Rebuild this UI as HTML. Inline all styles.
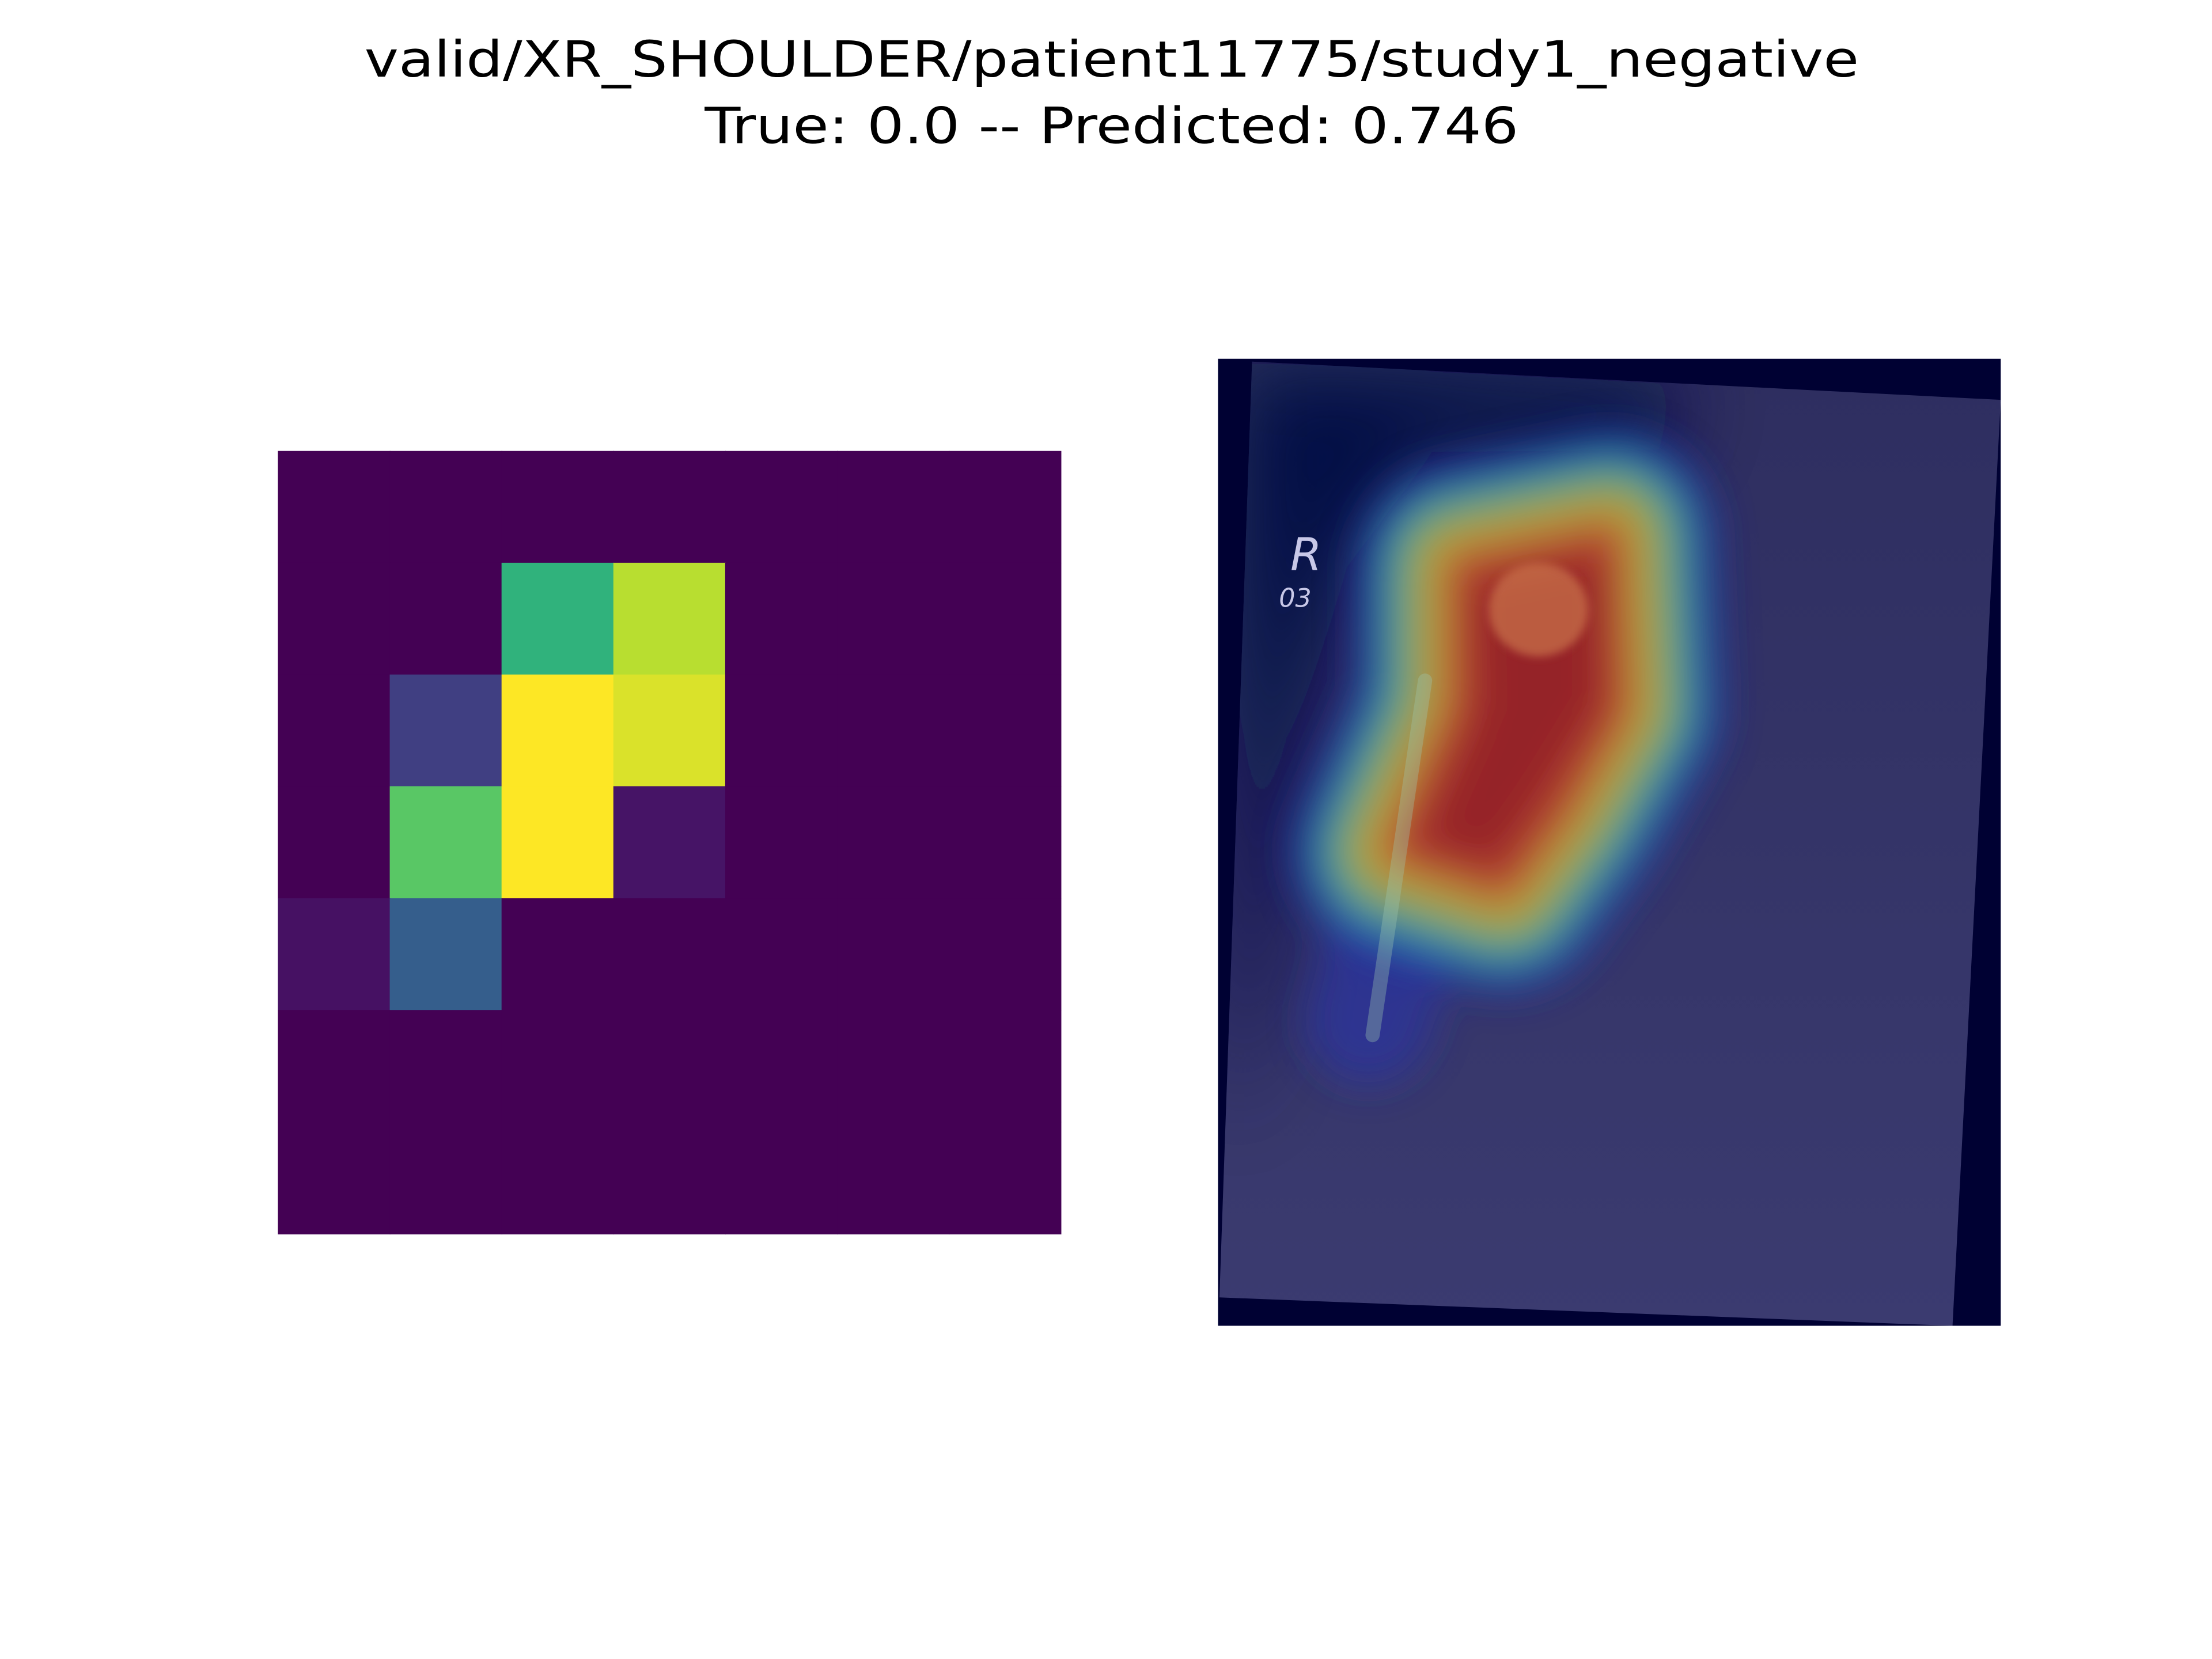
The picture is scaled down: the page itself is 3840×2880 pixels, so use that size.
<!DOCTYPE html>
<html><head><meta charset="utf-8"><style>
html,body{margin:0;padding:0;background:#fff;}
svg{display:block;}
</style></head><body>
<svg id="fig" width="3840" height="2880" viewBox="0 0 1560 1170" xmlns="http://www.w3.org/2000/svg">
<defs>
<filter id="blur" filterUnits="userSpaceOnUse" x="700" y="150" width="900" height="950"><feGaussianBlur stdDeviation="14"/></filter>
<filter id="blurbig" filterUnits="userSpaceOnUse" x="700" y="150" width="900" height="950"><feGaussianBlur stdDeviation="30"/></filter>
<filter id="blur2" filterUnits="userSpaceOnUse" x="700" y="150" width="900" height="950"><feGaussianBlur stdDeviation="3"/></filter>
<clipPath id="qclip"><polygon points="883,255 1411,282 1377,935 860,915"/></clipPath>
<linearGradient id="bg" x1="0" y1="0" x2="0" y2="1">
<stop offset="0" stop-color="#2e2e60"/><stop offset="1" stop-color="#3b3b70"/>
</linearGradient>
</defs>
<rect width="1560" height="1170" fill="#fff"/>
<text x="784" y="54" text-anchor="middle" font-family="DejaVu Sans, Liberation Sans, sans-serif" font-size="35" fill="#000" textLength="1054" lengthAdjust="spacingAndGlyphs">valid/XR_SHOULDER/patient11775/study1_negative</text>
<text x="784" y="101" text-anchor="middle" font-family="DejaVu Sans, Liberation Sans, sans-serif" font-size="35" fill="#000" textLength="574" lengthAdjust="spacingAndGlyphs">True: 0.0 -- Predicted: 0.746</text>
<g id="heatmap"></g>
<g>
<rect x="859" y="253" width="552" height="682" fill="#000133"/>
<polygon points="883,255 1411,282 1377,935 860,915" fill="url(#bg)"/>
<g clip-path="url(#qclip)">
<polygon points="870,255 1190,268 1170,320 1010,320 950,400 915,520 890,700 870,800" fill="#000844" filter="url(#blurbig)" opacity="0.95"/>
<g filter="url(#blur)" stroke-linejoin="round" stroke-linecap="round" opacity="0.9">
<polygon points="1030,400 1135,378 1140,500 1100,570 1060,625 985,600 1030,500" fill="#2430b0" stroke="#2430b0" stroke-width="150" opacity="0.8"/>
<polyline points="1010,560 965,720" stroke="#2430b0" stroke-width="90" opacity="0.6" fill="none"/>
<polygon points="1030,400 1135,378 1140,500 1100,570 1060,625 985,600 1030,500" fill="#2aa0b0" stroke="#2aa0b0" stroke-width="115"/>
<polygon points="1030,400 1135,378 1140,500 1100,570 1060,625 985,600 1030,500" fill="#80b848" stroke="#80b848" stroke-width="85"/>
<polygon points="1030,400 1135,378 1140,500 1100,570 1060,625 985,600 1030,500" fill="#d0a838" stroke="#d0a838" stroke-width="55"/>
<polygon points="1030,400 1135,378 1140,500 1100,570 1060,625 985,600 1030,500" fill="#c0402c" stroke="#c0402c" stroke-width="22"/>
<polygon points="1040,412 1130,392 1130,495 1090,560 1055,610 1000,595 1042,500" fill="#a02424"/>
</g>
<ellipse cx="1085" cy="430" rx="35" ry="33" fill="#c87048" opacity="0.75" filter="url(#blur2)"/>
<line x1="968" y1="730" x2="1005" y2="480" stroke="#9fc8b0" stroke-width="10" stroke-linecap="round" opacity="0.35"/>
<text x="910" y="402" font-family="DejaVu Sans, sans-serif" font-size="32" font-style="italic" fill="#c8c8e8">R</text>
<text x="902" y="428" font-family="DejaVu Sans, sans-serif" font-size="18" font-style="italic" fill="#c8c8e8">03</text>
</g>
</g>
</svg>
<script>
const rows = [0,1,2,3,4,5,6];
const cols = [0,1,2,3,4,5,6];
const values = [
 [0,0,0,0,0,0,0],
 [0,0,0.65,0.9,0,0,0],
 [0,0.2,1.0,0.95,0,0,0],
 [0,0.74,1.0,0.07,0,0,0],
 [0.06,0.3,0,0,0,0,0],
 [0,0,0,0,0,0,0],
 [0,0,0,0,0,0,0]
];
const vir=[[0,[68,1,84]],[0.13,[72,36,117]],[0.25,[59,82,139]],[0.38,[44,114,142]],[0.5,[33,145,140]],[0.63,[39,173,129]],[0.75,[94,201,98]],[0.88,[170,220,50]],[1,[253,231,37]]];
function viridis(v){for(let i=1;i<vir.length;i++){if(v<=vir[i][0]){const a=vir[i-1],b=vir[i],t=(v-a[0])/(b[0]-a[0]);return 'rgb('+a[1].map((c,k)=>Math.round(c+(b[1][k]-c)*t)).join(',')+')';}}return 'rgb(253,231,37)';}
const X0=196,Y0=318,W=552,H=552;
const xScale=c=>X0+c*W/cols.length, yScale=r=>Y0+r*H/rows.length;
const g=document.getElementById('heatmap');
rows.forEach(r=>cols.forEach(c=>{
 const el=document.createElementNS('http://www.w3.org/2000/svg','rect');
 el.setAttribute('x',xScale(c));el.setAttribute('y',yScale(r));
 el.setAttribute('width',xScale(c+1)-xScale(c)+0.5);el.setAttribute('height',yScale(r+1)-yScale(r)+0.5);
 el.setAttribute('fill',viridis(values[r][c]));
 
 
 g.appendChild(el);
}));
</script>
</body></html>
